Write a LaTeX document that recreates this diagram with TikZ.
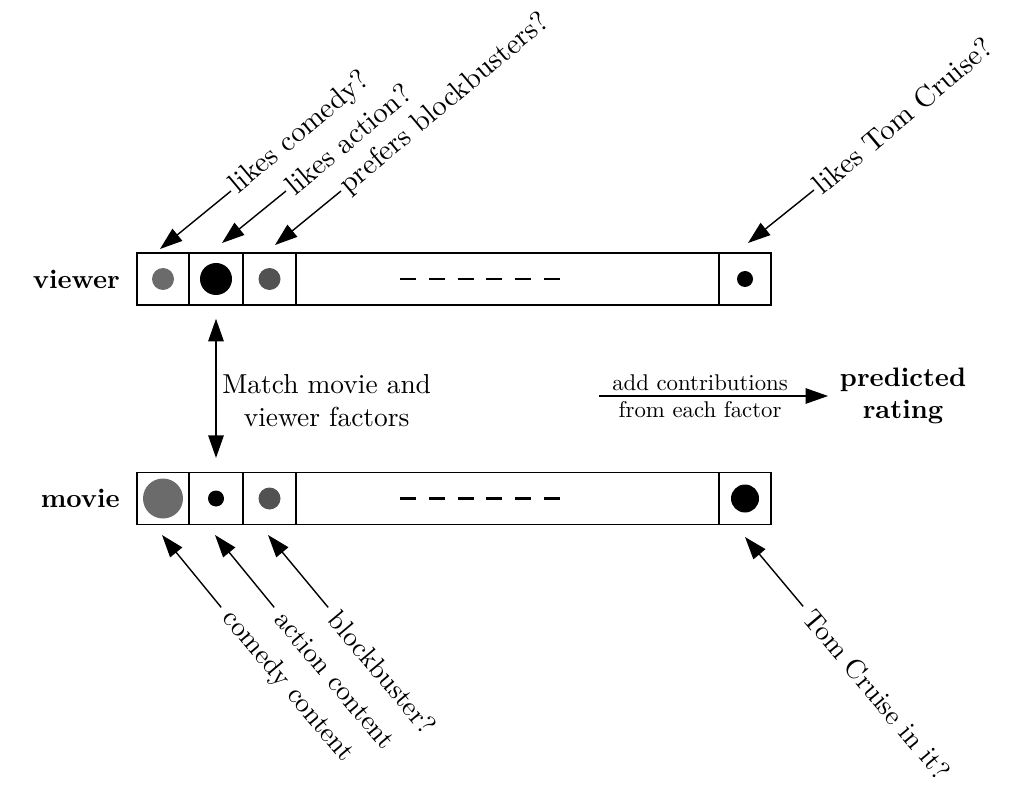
\documentclass[tikz,border=0pt]{standalone}
\usetikzlibrary{arrows.meta,positioning}
\definecolor{dotgray}{gray}{0.42}
\definecolor{dotdark}{gray}{0.32}

\begin{document}
\begin{tikzpicture}[
  x=0.025cm,
  y=-0.025cm,
  >={Triangle[length=16pt,width=11pt]},
  cell/.style={draw, line width=0.8pt, minimum height=1.3cm, inner sep=0pt},
  arr/.style={line width=1pt, ->},
  lbl/.style={scale=1.95, transform shape, inner sep=1pt},
  toplbl/.style={scale=2.05, transform shape, inner sep=1pt, rotate=40, anchor=west},
  botlbl/.style={scale=1.95, transform shape, inner sep=1pt, rotate=-50, anchor=west},
  small lbl/.style={scale=1.62, transform shape, inner sep=2pt},
  rowlbl/.style={scale=1.9, transform shape, font=\bfseries, align=center, inner sep=2pt}
]
  \useasboundingbox (0,0) rectangle (1029,799);

  % hàng người xem
  \node[cell, minimum width=1.3cm] (v1) at (163,279) {};
  \node[cell, minimum width=1.35cm] (v2) at (216,279) {};
  \node[cell, minimum width=1.325cm] (v3) at (269.5,279) {};
  \node[cell, minimum width=10.575cm] (vmid) at (507.5,279) {};
  \node[cell, minimum width=1.3cm] (v4) at (745,279) {};
  \node[rowlbl, left=0.27cm of v1] (viewer) {viewer};

  % hàng phim
  \node[cell, minimum width=1.3cm] (m1) at (163,498.5) {};
  \node[cell, minimum width=1.35cm] (m2) at (216,498.5) {};
  \node[cell, minimum width=1.325cm] (m3) at (269.5,498.5) {};
  \node[cell, minimum width=10.575cm] (mmid) at (507.5,498.5) {};
  \node[cell, minimum width=1.3cm] (m4) at (745,498.5) {};
  \node[rowlbl, left=0.27cm of m1] (movie) {movie};

  \fill[dotgray] (v1) circle (11);
  \fill[black] (v2) circle (16);
  \fill[dotdark] (v3) circle (11);
  \fill[black] (v4) circle (8);
  \fill[dotgray] (m1) circle (20);
  \fill[black] (m2) circle (8);
  \fill[dotdark] (m3) circle (11);
  \fill[black] (m4) circle (14);

  \draw[line width=1.5pt, dash pattern=on 0.4cm off 0.32cm] (400,279) -- (560,279);
  \draw[line width=1.5pt, dash pattern=on 0.4cm off 0.32cm] (400,498.5) -- (560,498.5);

  % nhãn phía trên
  \node[toplbl] (lcomedy) at (231,191) {likes comedy?};
  \node[toplbl] (laction) at (286,191) {likes action?};
  \node[toplbl] (lblock) at (341,191) {prefers blockbusters?};
  \node[toplbl] (ltom) at (814,190) {likes Tom Cruise?};
  \coordinate (tv1) at (160,249);
  \coordinate (tv2) at (222,243);
  \coordinate (tv3) at (275,245);
  \coordinate (tv4) at (748,243);
  \draw[arr] (lcomedy.west) -- (tv1);
  \draw[arr] (laction.west) -- (tv2);
  \draw[arr] (lblock.west) -- (tv3);
  \draw[arr] (ltom.west) -- (tv4);

  % nhãn phía dưới
  \node[botlbl] (lcc) at (225,612) {comedy content};
  \node[botlbl] (lac) at (278,612) {action content};
  \node[botlbl] (lbb) at (332,612) {blockbuster?};
  \node[botlbl] (ltc) at (807,611) {Tom Cruise in it?};
  \coordinate (tm1) at (162,535);
  \coordinate (tm2) at (215,535);
  \coordinate (tm3) at (268,535);
  \coordinate (tm4) at (745,537);
  \draw[arr, shorten <=0.15cm] (lcc.west) -- (tm1);
  \draw[arr, shorten <=0.15cm] (lac.west) -- (tm2);
  \draw[arr, shorten <=0.15cm] (lbb.west) -- (tm3);
  \draw[arr, shorten <=0.15cm] (ltc.west) -- (tm4);

  % ghép hai hàng
  \draw[line width=1pt, <->, shorten <=0.33cm, shorten >=0.35cm] (v2.south) -- (m2.north);
  \node[lbl, align=center, anchor=west] (match) at (219,401) {Match movie and\\viewer factors};

  \node[rowlbl] (pred) at (903,396) {predicted\\rating};
  \coordinate (addstart) at (599,396);
  \draw[arr, shorten >=0.15cm] (addstart) -- node[pos=0.43, above, small lbl] (addtop) {add contributions}
    node[pos=0.43, below, small lbl] (addbot) {from each factor} (pred.west);
\end{tikzpicture}
\end{document}
